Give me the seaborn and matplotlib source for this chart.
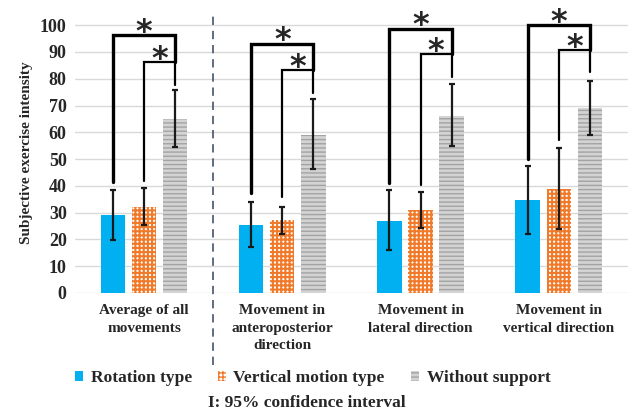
import numpy as np
import pandas as pd
import matplotlib
matplotlib.use("Agg")
import matplotlib.pyplot as plt
import seaborn as sns

categories = ["Average of all\nmovements", "Movement in\nanteroposterior\ndirection",
              "Movement in\nlateral direction", "Movement in\nvertical direction"]
series = ["Rotation type", "Vertical motion type", "Without support"]
rotation = [29, 25.4, 27, 34.7]
vertical = [32.2, 27.2, 31, 38.8]
without = [64.9, 59, 66.2, 68.9]
rotation_lo = [19.8, 17, 16, 22]
rotation_hi = [38.4, 34, 38.4, 47.5]
vertical_lo = [25.4, 21.9, 24.4, 23.8]
vertical_hi = [39.3, 32.2, 37.6, 54]
without_lo = [54.6, 46.3, 55, 59]
without_hi = [75.7, 72.4, 78.2, 79.2]
outer_top = [96.3, 93.1, 98.7, 100]
inner_top = [86.3, 83.2, 89.2, 90.7]
outer_left_bottom = [41.5, 37.3, 41, 50.2]
inner_left_bottom = [42, 36, 40.3, 57]
right_bottom = [77.6, 74.5, 80.7, 82.6]
yticks = [0, 10, 20, 30, 40, 50, 60, 70, 80, 90, 100]

sns.set_theme(style="white")
plt.rcParams['font.family'] = ['Liberation Serif', 'DejaVu Serif']
plt.rcParams['font.weight'] = 'bold'

df = pd.DataFrame({
    "cat": categories * 3,
    "type": [s for s in series for _ in categories],
    "val": rotation + vertical + without,
})

fig = plt.figure(figsize=(6.38, 4.16), dpi=100)
ax = fig.add_axes([0.1176, 0.2957, 0.8664, 0.676])
sns.barplot(data=df, x="cat", y="val", hue="type", order=categories, hue_order=series,
            width=0.675, gap=0.22, errorbar=None, ax=ax, legend=False)
bar_containers = list(ax.containers)

styles = [
    dict(facecolor="#00B0F0", edgecolor="#00B0F0", hatch=None, hlw=1.0),
    dict(facecolor="#FFFFFF", edgecolor="#F07A2A", hatch="++++", hlw=1.5),
    dict(facecolor="#D3D3D3", edgecolor="#A3A3A3", hatch="----", hlw=1.0),
]
for cont, st in zip(bar_containers, styles):
    for p in cont.patches:
        p.set_facecolor(st["facecolor"])
        p.set_edgecolor(st["edgecolor"])
        p.set_linewidth(0)
        if st["hatch"]:
            p.set_hatch(st["hatch"])
            if hasattr(p, "set_hatch_linewidth"):
                p.set_hatch_linewidth(st["hlw"])
            else:
                p._hatch_linewidth = st["hlw"]

centers = [[p.get_x() + p.get_width() / 2 for p in cont.patches] for cont in bar_containers]
vals = [rotation, vertical, without]
los = [rotation_lo, vertical_lo, without_lo]
his = [rotation_hi, vertical_hi, without_hi]
for xs, v, lo, hi in zip(centers, vals, los, his):
    v = np.array(v); lo = np.array(lo); hi = np.array(hi)
    ax.errorbar(xs, v, yerr=[v - lo, hi - v], fmt="none", ecolor="#1a1a1a",
                elinewidth=1.6, capsize=2, capthick=1.6, zorder=5)

for i in range(len(categories)):
    xb, xo, xg = centers[0][i], centers[1][i], centers[2][i]
    ax.plot([xb, xb, xg, xg], [outer_left_bottom[i], outer_top[i], outer_top[i], inner_top[i]],
            color="black", lw=2.4, clip_on=False, solid_joinstyle="miter", zorder=6)
    ax.plot([xo, xo, xg, xg], [inner_left_bottom[i], inner_top[i], inner_top[i], right_bottom[i]],
            color="black", lw=1.6, clip_on=False, solid_joinstyle="miter", zorder=6)
    ax.text((xb + xg) / 2, outer_top[i] + 1.0, "*", ha="center", va="center",
            fontsize=23, fontweight="bold", family="DejaVu Sans", clip_on=False)
    ax.text((xo + xg) / 2, inner_top[i] + 1.0, "*", ha="center", va="center",
            fontsize=23, fontweight="bold", family="DejaVu Sans", clip_on=False)

ax.axvline(0.5, ymin=-0.256, ymax=1.0, color="#44546A", lw=1.2, dashes=(5, 3.5), clip_on=False)

ax.set_ylim(0, 105)
ax.set_xlim(-0.5, 3.5)
ax.set_yticks(yticks)
ax.set_yticklabels([str(t) for t in yticks], fontsize=13, fontweight="bold")
ax.set_xticks(range(len(categories)))
ax.set_xticklabels(categories, fontsize=11, fontweight="bold", linespacing=1.45)
ax.tick_params(axis="both", length=0, pad=6)
ax.tick_params(axis="x", pad=8)
ax.yaxis.grid(True, color="#D9D9D9", lw=1)
ax.set_axisbelow(True)
for s in ax.spines.values():
    s.set_visible(False)
ax.set_xlabel("")
ax.set_ylabel("Subjective exercise intensity", fontsize=11, fontweight="bold", labelpad=5)

handles = [cont.patches[0] for cont in bar_containers]
fig.legend(handles, series, loc="center", bbox_to_anchor=(0.49, 0.091), ncol=3, frameon=False,
           prop=dict(family="Liberation Serif", weight="bold", size=12.5),
           handlelength=0.45, handleheight=0.45, handletextpad=0.45, columnspacing=1.5)
fig.text(0.481, 0.032, "I: 95% confidence interval", ha="center", va="center",
         fontsize=12.5, fontweight="bold")

fig.savefig("out.png", dpi=100)
